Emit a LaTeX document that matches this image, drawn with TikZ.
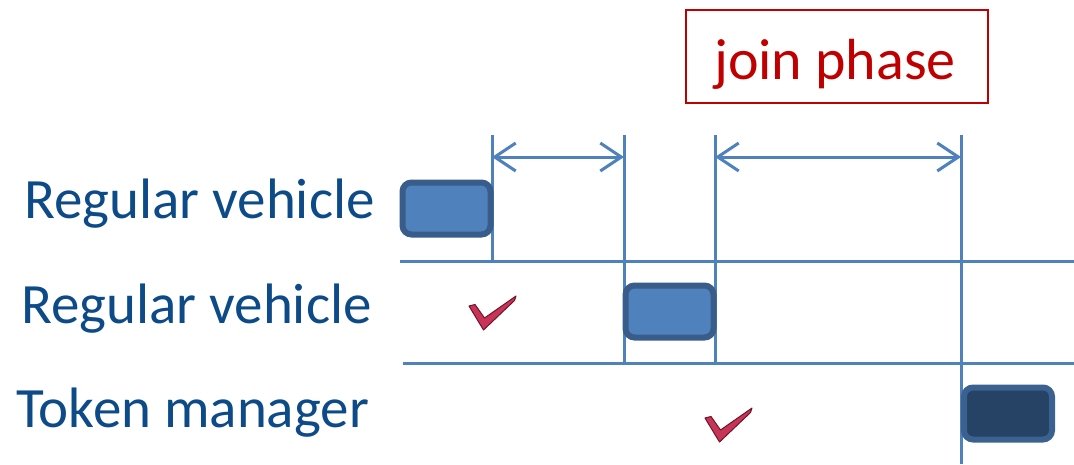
\documentclass[tikz,border=0pt]{standalone}
\usepackage{fontspec}
\setmainfont{Carlito}
\usetikzlibrary{arrows.meta}
\definecolor{labelblue}{RGB}{12,74,136}
\definecolor{linblue}{RGB}{79,129,189}
\definecolor{boxfill}{RGB}{79,129,189}
\definecolor{boxedge}{RGB}{56,93,138}
\definecolor{darkfill}{RGB}{38,66,100}
\definecolor{phasered}{RGB}{192,0,0}
\definecolor{chkfill}{RGB}{200,52,88}
\definecolor{chkedge}{RGB}{110,20,40}
\tikzset{
  rowlabel/.style={anchor=base west, inner sep=0pt, text=labelblue, font=\fontsize{57}{62}\selectfont},
  grid/.style={draw=linblue, line width=3pt},
  dimarrow/.style={draw=linblue, line width=3pt, {Straight Barb[length=21pt,width=28pt,line width=3pt]}-{Straight Barb[length=21pt,width=28pt,line width=3pt]}},
  slot/.style={draw=boxedge, fill=boxfill, line width=6pt, rounded corners=9pt, minimum width=88pt, minimum height=52pt, inner sep=0pt},
  tokslot/.style={slot, fill=darkfill, draw=boxedge!90!linblue},
  phasebox/.style={draw=phasered, line width=2pt, minimum width=302pt, minimum height=93pt, inner sep=0pt},
  phasetext/.style={anchor=base, inner sep=0pt, text=phasered, font=\fontsize{58}{62}\selectfont},
  check/.style={fill=chkfill, draw=chkedge, line width=1pt, line join=round}
}
\begin{document}
\begin{tikzpicture}[x=1pt,y=-1pt]
\useasboundingbox (0,0) rectangle (1074,464);
% labels
\node[rowlabel] (l1) at (24,218) {Regular vehicle};
\node[rowlabel] (l2) at (21,323) {Regular vehicle};
\node[rowlabel] (l3) at (16,427) {Token manager};
% phase box
\node[phasebox] (ph) at (836.5,56) {};
\node[phasetext] (pt) at (835,79) {join phase};
% coordinates for grid
\coordinate (v1t) at (492,135); \coordinate (v1b) at (492,260);
\coordinate (v2t) at (624,135); \coordinate (v2b) at (624,363);
\coordinate (v3t) at (715,135); \coordinate (v3b) at (715,363);
\coordinate (v4t) at (961,135); \coordinate (v4b) at (961,464);
\coordinate (h1l) at (400,261); \coordinate (h1r) at (1074,261);
\coordinate (h2l) at (403,363); \coordinate (h2r) at (1074,363);
\draw[grid] (v1t) -- (v1b);
\draw[grid] (v2t) -- (v2b);
\draw[grid] (v3t) -- (v3b);
\draw[grid] (v4t) -- (v4b);
\draw[grid] (h1l) -- (h1r);
\draw[grid] (h2l) -- (h2r);
% dimension arrows
\coordinate (a1l) at (492,157); \coordinate (a1r) at (624,157);
\coordinate (a2l) at (715,157); \coordinate (a2r) at (961,157);
\draw[dimarrow] (a1l) -- (a1r);
\draw[dimarrow] (a2l) -- (a2r);
% slots
\node[slot] (s1) at (446.5,208.5) {};
\node[slot] (s2) at (669.5,311.5) {};
\node[tokslot] (s3) at (1008,413.5) {};
% check marks
\path[check] (469,306) -- (475,304.5) -- (484.5,318) -- (516,296) -- (514.5,300.5) -- (483.5,330) -- cycle;
\path[check] (705,418) -- (711,416.5) -- (720.5,430) -- (752,408) -- (750.5,412.5) -- (719.5,442) -- cycle;
\end{tikzpicture}
\end{document}
